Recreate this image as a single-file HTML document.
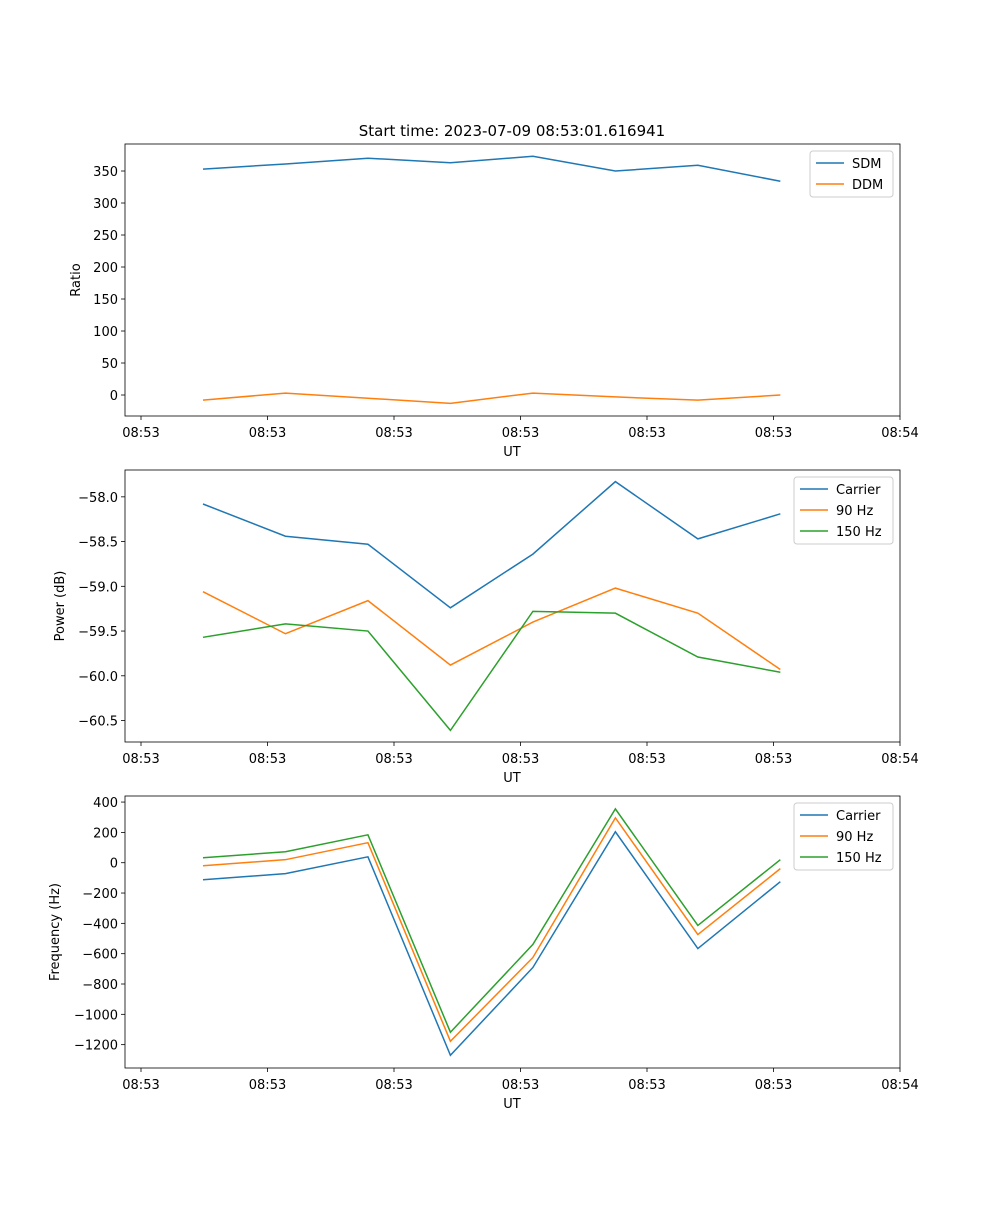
<!DOCTYPE html>
<html><head><meta charset="utf-8"><style>
body{margin:0;background:#fff;font-family:"Liberation Sans","DejaVu Sans",sans-serif;}
svg text{font-family:"DejaVu Sans","Liberation Sans",sans-serif;font-size:13px;fill:#000;}
</style></head><body>
<svg id="fig" width="1000" height="1200" xmlns="http://www.w3.org/2000/svg">
<rect width="1000" height="1200" fill="#fff"/>
<text x="512" y="136" text-anchor="middle" style="font-size:15px">Start time: 2023-07-09 08:53:01.616941</text>
</svg>
<script>
const times=[4.9,11.42,17.94,24.46,30.98,37.5,44.02,50.54];
const xTicks=[0,10,20,30,40,50,60];
const xTickLabels=["08:53","08:53","08:53","08:53","08:53","08:53","08:54"];
const sdm=[353,361,370,363,373,350,359,334];
const ddm=[-8,3,-5,-13,3,-3,-8,0];
const pCarrier=[-58.08,-58.44,-58.53,-59.24,-58.64,-57.83,-58.47,-58.19];
const p90=[-59.06,-59.53,-59.16,-59.88,-59.40,-59.02,-59.30,-59.93];
const p150=[-59.57,-59.42,-59.50,-60.61,-59.28,-59.30,-59.79,-59.96];
const fCarrier=[-112,-72,39,-1270,-691,204,-566,-125];
const f90=[-20,20,132,-1178,-625,296,-474,-39];
const f150=[33,72,184,-1118,-539,355,-414,20];
const ratioTicks=[0,50,100,150,200,250,300,350];
const powerTicks=[-58.0,-58.5,-59.0,-59.5,-60.0,-60.5];
const freqTicks=[400,200,0,-200,-400,-600,-800,-1000,-1200];
const C=["#1f77b4","#ff7f0e","#2ca02c"];
const svg=document.getElementById('fig');
const NS="http://www.w3.org/2000/svg";
function mk(tag,attrs,parent){const e=document.createElementNS(NS,tag);for(const k in attrs)e.setAttribute(k,attrs[k]);(parent||svg).appendChild(e);return e;}
const L=125,R=900;
const xS=t=>141+t*12.65;
function panel(id,top,bot,ymin,ymax,ticks,fmt,ylabel,ylx,series,names,leg){
  const g=mk('g',{});
  
  
  const yS=v=>bot-(v-ymin)/(ymax-ymin)*(bot-top);
  series.forEach((s,i)=>{
    const p=mk('polyline',{points:s.map((v,j)=>xS(times[j])+','+yS(v)).join(' '),fill:'none',stroke:C[i],'stroke-width':1.5},g);
    
    
  });
  const fr=mk('rect',{x:L,y:top,width:R-L,height:bot-top,fill:'none',stroke:'#000','stroke-width':0.8},g);
  
  
  xTicks.forEach((t,i)=>{
    const x=xS(t);
    mk('line',{x1:x,x2:x,y1:bot,y2:bot+4,stroke:'#000','stroke-width':0.8},g);
    const tx=mk('text',{x:x,y:bot+21,'text-anchor':'middle'},g);tx.textContent=xTickLabels[i];
    
    
  });
  ticks.forEach(v=>{
    const y=yS(v);
    mk('line',{x1:L-4,x2:L,y1:y,y2:y,stroke:'#000','stroke-width':0.8},g);
    const tx=mk('text',{x:L-7,y:y+5,'text-anchor':'end'},g);tx.textContent=fmt(v);
    
    
  });
  const xl=mk('text',{x:512,y:bot+40,'text-anchor':'middle'},g);xl.textContent='UT';
  
  
  const yc=(top+bot)/2;
  const yl=mk('text',{x:ylx,y:yc,'text-anchor':'middle',transform:'rotate(-90 '+ylx+' '+yc+')'},g);yl.textContent=ylabel;
  
  
  const lg=mk('g',{},g);
  
  
  mk('rect',{x:leg[0],y:leg[1],width:893-leg[0],height:names.length*21+4,rx:3,fill:'#fff',stroke:'#ccc','stroke-width':1},lg);
  names.forEach((n,i)=>{
    const y=leg[1]+12+i*21;
    mk('line',{x1:leg[0]+6,x2:leg[0]+34,y1:y,y2:y,stroke:C[i],'stroke-width':1.5},lg);
    const t=mk('text',{x:leg[0]+42,y:y+5},lg);t.textContent=n;
    
    
  });
}
const minus=s=>s.replace('-','\u2212');
panel('ratio',144,416,-32.8,392.2,ratioTicks,v=>minus(String(v)),'Ratio',80,[sdm,ddm],['SDM','DDM'],[810,151]);
panel('power',470,742,-60.74,-57.7,powerTicks,v=>minus(v.toFixed(1)),'Power (dB)',64,[pCarrier,p90,p150],['Carrier','90 Hz','150 Hz'],[794,477]);
panel('frequency',796,1068,-1354,440,freqTicks,v=>minus(String(v)),'Frequency (Hz)',59,[fCarrier,f90,f150],['Carrier','90 Hz','150 Hz'],[794,803]);
</script>
</body></html>
